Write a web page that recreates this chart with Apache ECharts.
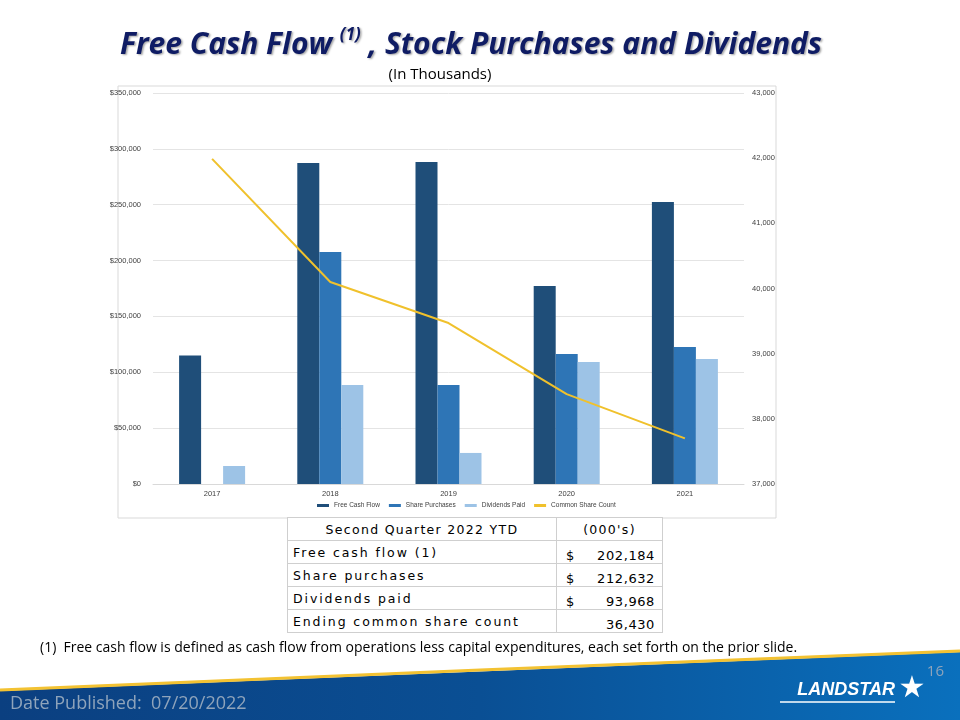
<!DOCTYPE html>
<html>
<head>
<meta charset="utf-8">
<script src="https://cdn.jsdelivr.net/npm/echarts@6/dist/echarts.min.js"></script>
<style>
  html, body { margin: 0; padding: 0; background: #fff; }
  #wrap { position: relative; width: 960px; height: 720px; }
  #main { width: 960px; height: 720px; }
  /* YTD 表格 */
  #ytd { position: absolute; left: 287px; top: 517px; width: 376px; border-collapse: collapse;
    font-family: "DejaVu Sans", sans-serif; font-size: 12.5px; color: #000; background: #fff; }
  #ytd td { border: 1px solid #cfcfcf; padding: 0 5px; height: 22px; letter-spacing: 1.9px; white-space: nowrap; }
  #ytd td.num { letter-spacing: 0.6px; font-size: 13px; vertical-align: bottom; }
  #ytd tr.head td { text-align: center; letter-spacing: 1.3px; }
</style>
</head>
<body>
<div id="wrap">
  <div id="main"></div>
  <table id="ytd"></table>
</div>
<script>
// chart data (thousands)
var years = ["2017", "2018", "2019", "2020", "2021"];
var freeCashFlow = [115000, 287300, 288200, 177200, 252500];
var sharePurchases = [0, 207700, 88600, 116400, 122600];
var dividendsPaid = [16100, 88600, 27800, 109200, 111900];
var shareCount = [41990, 40100, 39470, 38380, 37700];

// YTD table
var tableHead = ["Second Quarter 2022 YTD", "(000's)"];
var tableLabels = ["Free cash flow (1)", "Share purchases", "Dividends paid", "Ending common share count"];
var tableDollar = ["$", "$", "$", ""];
var tableValues = ["202,184", "212,632", "93,968", "36,430"];

// 填充表格
var html = '<tr class="head"><td style="width:258px">' + tableHead[0] + '</td><td>' + tableHead[1] + '</td></tr>';
for (var i = 0; i < tableLabels.length; i++) {
  html += '<tr><td>' + tableLabels[i] + '</td><td class="num">' +
    '<span style="float:left;padding-left:4px">' + tableDollar[i] + '</span>' +
    '<span style="float:right;padding-right:2px">' + tableValues[i] + '</span></td></tr>';
}
document.getElementById("ytd").innerHTML = html;

var chart = echarts.init(document.getElementById("main"));

function fmtMoney(v) {
  return "$" + v.toLocaleString("en-US");
}

var option = {
  backgroundColor: "#fff",
  animation: false,
  textStyle: { fontFamily: '"Liberation Sans", Arial, sans-serif' },
  grid: { left: 153, right: 216, top: 93, bottom: 236 },
  legend: {
    bottom: 206,
    left: 312,
    icon: "rect",
    itemWidth: 12,
    itemHeight: 3,
    itemGap: 9,
    textStyle: { fontSize: 6.5, color: "#404040" },
    data: ["Free Cash Flow", "Share Purchases", "Dividends Paid", "Common Share Count"]
  },
  xAxis: {
    type: "category",
    data: years,
    axisLine: { lineStyle: { color: "#d9d9d9" } },
    axisTick: { show: false },
    axisLabel: { fontSize: 7.5, color: "#404040", margin: 6 }
  },
  yAxis: [
    {
      type: "value",
      min: 0, max: 350000, interval: 50000,
      axisLabel: { fontSize: 7.5, color: "#404040", formatter: fmtMoney, margin: 12 },
      splitLine: { lineStyle: { color: "#e4e4e4" } },
      axisLine: { show: false }, axisTick: { show: false }
    },
    {
      type: "value",
      min: 37000, max: 43000, interval: 1000,
      position: "right",
      axisLabel: { fontSize: 7.5, color: "#404040", margin: 8,
        formatter: function (v) { return v.toLocaleString("en-US"); } },
      splitLine: { show: false },
      axisLine: { show: false }, axisTick: { show: false }
    }
  ],
  series: [
    { name: "Free Cash Flow", type: "bar", data: freeCashFlow, barWidth: 22, barGap: "0%",
      itemStyle: { color: "#1f4e79" } },
    { name: "Share Purchases", type: "bar", data: sharePurchases, barWidth: 22,
      itemStyle: { color: "#2e75b6" } },
    { name: "Dividends Paid", type: "bar", data: dividendsPaid, barWidth: 22,
      itemStyle: { color: "#9dc3e6" } },
    { name: "Common Share Count", type: "line", yAxisIndex: 1, data: shareCount,
      symbol: "none", lineStyle: { color: "#f0c12c", width: 2 }, itemStyle: { color: "#f0c12c" } }
  ],
  graphic: [
    // 图表外框
    { type: "rect", z: -1, shape: { x: 118, y: 86, width: 658, height: 432 },
      style: { fill: "#fff", stroke: "#d9d9d9", lineWidth: 1 } },
    // 标题
    { type: "text", x: 120, y: 45,
      style: {
        text: "{t|Free Cash Flow }{s|(1)}{t| , Stock Purchases and Dividends}",
        verticalAlign: "middle",
        textShadowColor: "rgba(0,0,0,0.35)", textShadowBlur: 2, textShadowOffsetX: 1.5, textShadowOffsetY: 1.5,
        rich: {
          t: { font: 'italic bold 30px "Open Sans", sans-serif', fill: "#0f1c64" },
          s: { font: 'italic bold 17px "Open Sans", sans-serif', fill: "#0f1c64", verticalAlign: "top", padding: [0, 0, 20, 0] }
        }
      } },
    { type: "text", x: 440, y: 75,
      style: { text: "(In Thousands)", font: '15px "Open Sans", sans-serif', fill: "#000", align: "center", verticalAlign: "middle" } },
    // 脚注
    { type: "text", x: 40, y: 648,
      style: { text: "(1)  Free cash flow is defined as cash flow from operations less capital expenditures, each set forth on the prior slide.",
        font: '14px "Open Sans", sans-serif', fill: "#000", verticalAlign: "middle" } },
    // 底部色带
    { type: "polygon", shape: { points: [[0, 691], [960, 652], [960, 720], [0, 720]] },
      style: { fill: new echarts.graphic.LinearGradient(0, 0, 1, 0, [
        { offset: 0, color: "#0b3f80" }, { offset: 0.5, color: "#0a4f94" }, { offset: 1, color: "#0a70bd" }]) } },
    { type: "polyline", shape: { points: [[0, 690], [480, 670], [960, 651]] },
      style: { stroke: "#f3c232", lineWidth: 3, fill: null } },
    { type: "text", x: 10, y: 704,
      style: { text: "Date Published:  07/20/2022", font: '18px "Open Sans", sans-serif', fill: "#8fa4bb", verticalAlign: "middle" } },
    { type: "text", x: 944, y: 672,
      style: { text: "16", font: '15px "Open Sans", sans-serif', fill: "#8fa4bb", align: "right", verticalAlign: "middle" } },
    { type: "text", x: 895, y: 690,
      style: { text: "LANDSTAR", font: 'italic 900 18px "Liberation Sans", sans-serif', fill: "#fff", align: "right", verticalAlign: "middle" } },
    { type: "line", shape: { x1: 780, y1: 702, x2: 895, y2: 702 }, style: { stroke: "#fff", lineWidth: 1.5 } },
    { type: "text", x: 912, y: 689,
      style: { text: "★", font: '30px "DejaVu Sans", sans-serif', fill: "#fff", align: "center", verticalAlign: "middle" } }
  ]
};

chart.setOption(option);
</script>
</body>
</html>
